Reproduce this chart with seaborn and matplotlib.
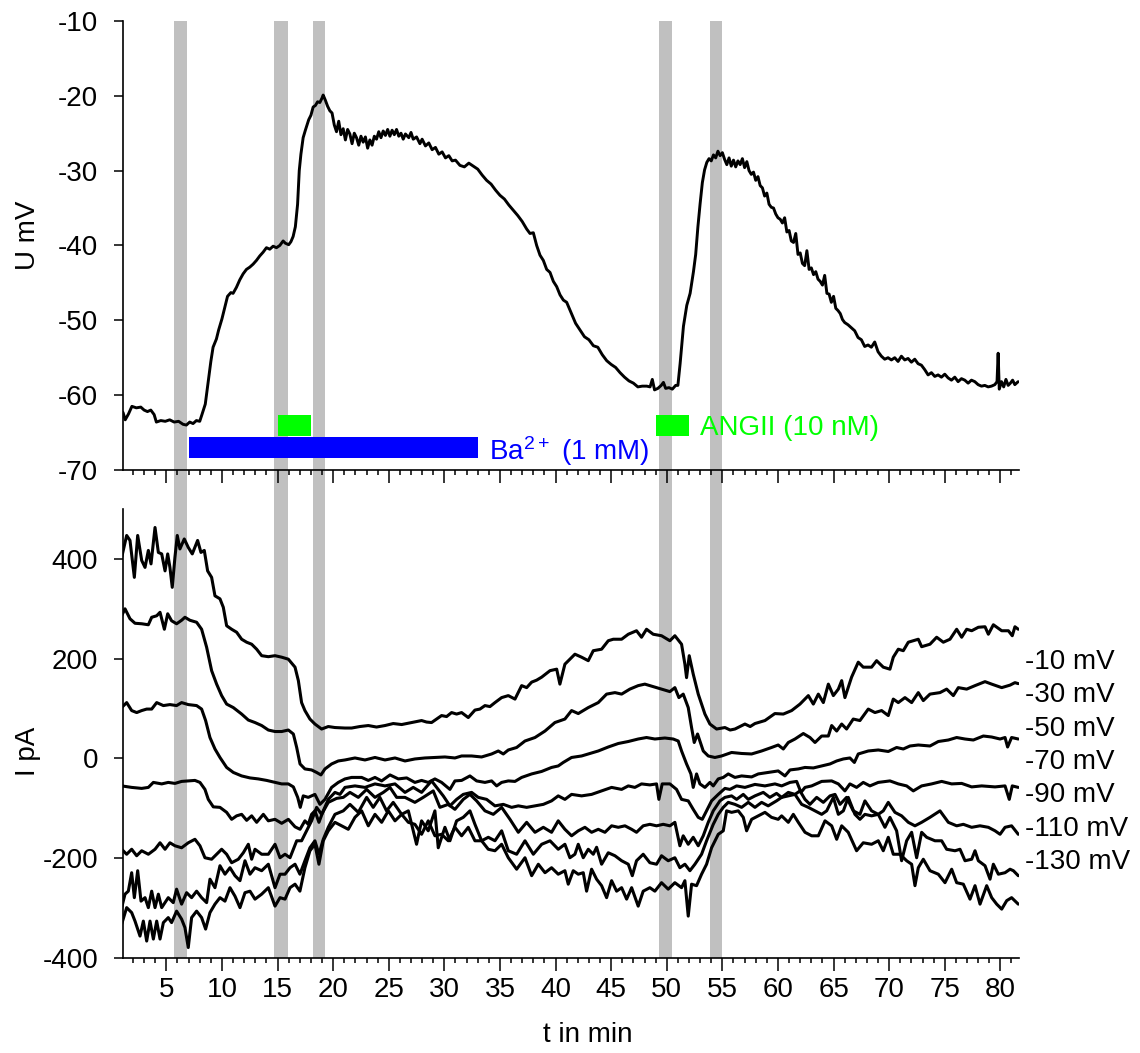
import matplotlib
matplotlib.use("Agg")
import matplotlib.pyplot as plt
from matplotlib.ticker import FixedLocator
import pandas as pd
import seaborn as sns

# ---------------------------------------------------------------- data
# membrane potential (t in min, U in mV)
u_trace = [
    (1.1, -62.3), (1.3, -63.3), (1.6, -62.5), (1.9, -61.5), (2.3, -61.7), (2.7, -61.6),
    (3.0, -62.0), (3.3, -62.2), (3.6, -62.0), (3.9, -62.6), (4.1, -63.6), (4.5, -63.4),
    (4.9, -63.5), (5.3, -63.3), (5.7, -63.6), (6.1, -63.5), (6.5, -63.9), (6.8, -64.0),
    (7.1, -63.6), (7.4, -63.8), (7.7, -63.4), (8.0, -63.5), (8.2, -62.6), (8.5, -61.2),
    (8.8, -57.8), (9.0, -55.5), (9.2, -53.6), (9.5, -52.5), (9.7, -51.3), (10.0, -49.8),
    (10.2, -48.6), (10.5, -46.8), (10.8, -46.3), (11.0, -46.4), (11.3, -45.6), (11.6, -44.6),
    (11.9, -43.8), (12.2, -43.2), (12.5, -42.9), (12.8, -42.5), (13.1, -42.0), (13.4, -41.4),
    (13.7, -40.9), (14.0, -40.3), (14.3, -40.5), (14.6, -40.1), (14.9, -40.3), (15.2, -40.0),
    (15.5, -39.4), (15.7, -39.7), (16.0, -39.9), (16.2, -39.5), (16.4, -38.8), (16.6, -37.5),
    (16.8, -34.5), (16.95, -30.0), (17.1, -27.8), (17.3, -25.6), (17.5, -24.6), (17.8, -23.2),
    (18.0, -22.6), (18.2, -21.5), (18.4, -21.3), (18.6, -20.8), (18.8, -20.9), (19.0, -20.3),
    (19.1, -19.9), (19.3, -20.6), (19.5, -21.4), (19.7, -22.0), (19.9, -22.3), (20.1, -23.9),
    (20.3, -24.8), (20.5, -23.4), (20.7, -25.2), (20.9, -24.4), (21.1, -25.9), (21.3, -24.5),
    (21.5, -25.1), (21.7, -26.4), (21.9, -25.0), (22.1, -25.6), (22.3, -26.6), (22.5, -25.4),
    (22.7, -26.2), (22.9, -25.5), (23.1, -27.0), (23.3, -25.9), (23.5, -26.6), (23.7, -25.4),
    (23.9, -25.8), (24.1, -24.8), (24.3, -25.6), (24.5, -24.7), (24.7, -25.3), (24.9, -24.5),
    (25.1, -25.4), (25.3, -24.6), (25.5, -25.2), (25.7, -24.5), (25.9, -25.4), (26.1, -25.0),
    (26.3, -25.8), (26.5, -25.1), (26.8, -25.6), (27.0, -24.9), (27.2, -25.8), (27.5, -25.5),
    (27.8, -26.4), (28.0, -25.8), (28.3, -26.7), (28.6, -26.3), (28.9, -27.2), (29.2, -26.9),
    (29.5, -27.8), (29.8, -27.5), (30.1, -28.3), (30.4, -28.0), (30.7, -28.7), (31.0, -28.6),
    (31.4, -29.3), (31.8, -29.5), (32.2, -29.0), (32.6, -29.4), (33.0, -29.8), (33.4, -30.6),
    (33.8, -31.3), (34.2, -31.8), (34.6, -32.6), (35.0, -33.3), (35.4, -33.8), (35.8, -34.6),
    (36.2, -35.3), (36.6, -36.0), (37.0, -36.8), (37.4, -37.8), (37.7, -38.4), (38.0, -38.3),
    (38.3, -40.0), (38.6, -41.3), (38.9, -42.0), (39.2, -43.2), (39.5, -43.6), (39.8, -44.8),
    (40.1, -45.5), (40.4, -46.6), (40.7, -47.3), (41.0, -47.6), (41.4, -49.0), (41.8, -50.4),
    (42.2, -51.3), (42.6, -52.2), (43.0, -52.6), (43.4, -53.4), (43.8, -53.6), (44.2, -54.6),
    (44.6, -55.4), (45.0, -55.9), (45.4, -56.3), (45.8, -57.0), (46.2, -57.6), (46.6, -58.1),
    (47.0, -58.4), (47.4, -58.9), (47.8, -58.8), (48.2, -58.8), (48.5, -58.9), (48.7, -57.9),
    (48.9, -59.3), (49.2, -59.1), (49.5, -58.7), (49.7, -58.3), (49.9, -59.1), (50.2, -59.0),
    (50.5, -59.2), (50.8, -58.7), (51.0, -58.7), (51.2, -55.8), (51.5, -50.8), (51.8, -48.0),
    (52.1, -46.4), (52.4, -43.5), (52.6, -41.2), (52.8, -37.5), (53.0, -34.4), (53.2, -31.6),
    (53.4, -29.9), (53.6, -28.9), (53.8, -28.4), (54.0, -28.7), (54.2, -27.9), (54.4, -28.3),
    (54.6, -27.4), (54.8, -28.0), (55.0, -27.6), (55.2, -28.5), (55.4, -29.2), (55.6, -28.3),
    (55.8, -29.4), (56.0, -28.6), (56.2, -29.5), (56.4, -28.7), (56.6, -29.2), (56.8, -28.4),
    (57.0, -29.6), (57.2, -28.8), (57.4, -30.0), (57.6, -30.5), (57.8, -30.2), (58.0, -31.3),
    (58.2, -30.8), (58.4, -32.0), (58.6, -32.3), (58.8, -33.4), (59.0, -33.0), (59.2, -34.5),
    (59.4, -34.9), (59.6, -35.0), (59.8, -35.8), (60.0, -36.3), (60.2, -36.5), (60.4, -37.0),
    (60.6, -36.3), (60.8, -38.2), (61.0, -38.0), (61.2, -39.4), (61.4, -39.6), (61.6, -38.4),
    (61.8, -41.2), (62.0, -41.0), (62.2, -42.4), (62.4, -42.7), (62.6, -40.7), (62.8, -43.2),
    (63.0, -43.0), (63.2, -43.9), (63.4, -43.5), (63.6, -44.5), (63.8, -44.8), (64.0, -45.3),
    (64.2, -44.0), (64.4, -46.4), (64.6, -46.5), (64.8, -47.6), (65.0, -46.8), (65.2, -48.4),
    (65.4, -48.7), (65.6, -49.1), (65.8, -49.9), (66.0, -50.3), (66.3, -50.6), (66.6, -51.0),
    (66.9, -51.4), (67.2, -52.3), (67.5, -52.6), (67.8, -53.5), (68.1, -53.3), (68.4, -53.6),
    (68.7, -52.9), (69.0, -54.2), (69.3, -54.8), (69.6, -55.2), (69.9, -55.0), (70.2, -55.3),
    (70.5, -55.0), (70.8, -55.5), (71.1, -54.8), (71.4, -55.3), (71.7, -55.1), (72.0, -55.6),
    (72.3, -55.2), (72.6, -55.8), (72.9, -56.0), (73.2, -56.6), (73.5, -57.3), (73.8, -57.0),
    (74.1, -57.5), (74.4, -57.3), (74.7, -57.6), (75.0, -57.2), (75.3, -57.7), (75.6, -58.0),
    (75.9, -57.6), (76.2, -58.2), (76.5, -57.8), (76.8, -58.0), (77.1, -58.4), (77.4, -58.0),
    (77.7, -58.2), (78.0, -58.6), (78.3, -58.8), (78.6, -58.7), (78.9, -58.9), (79.2, -58.8),
    (79.5, -58.6), (79.7, -58.2), (79.8, -54.4), (79.9, -59.2), (80.1, -58.2), (80.3, -58.9),
    (80.5, -57.9), (80.7, -58.7), (80.9, -58.4), (81.1, -58.0), (81.3, -58.6), (81.6, -58.2),
]

# whole-cell currents at the step potentials (t in min, I in pA)
i_m10 = [
    (0.98, 403), (1.43, 447), (1.73, 437), (2.12, 363), (2.42, 447), (2.78, 397), (3.08, 383),
    (3.38, 417), (3.62, 390), (3.98, 463), (4.28, 413), (4.58, 410), (4.88, 376), (5.12, 410),
    (5.32, 383), (5.53, 343), (5.77, 403), (5.98, 447), (6.22, 420), (6.61, 440), (6.97, 423),
    (7.33, 410), (7.81, 437), (8.11, 413), (8.41, 417), (8.71, 376), (9.07, 363), (9.37, 326),
    (9.82, 320), (10.12, 303), (10.42, 266), (10.87, 259), (11.32, 253), (11.77, 239),
    (12.22, 233), (12.67, 229), (13.12, 219), (13.57, 206), (14.17, 204), (14.77, 206),
    (15.37, 203), (15.97, 199), (16.57, 183), (16.87, 156), (17.16, 112), (17.46, 96),
    (17.91, 79), (18.36, 69), (18.96, 59), (19.56, 64), (20.16, 62), (21.06, 61), (21.66, 61),
    (22.4, 64), (23.16, 66), (23.9, 63), (24.66, 66), (25.4, 70), (26.16, 68), (27.05, 72),
    (27.95, 76), (28.4, 73), (28.85, 72), (29.75, 86), (30.2, 84), (30.65, 92), (31.1, 89),
    (31.55, 92), (32.15, 82), (32.75, 97), (33.2, 99), (33.65, 106), (34.1, 104), (34.55, 112),
    (35.15, 122), (35.75, 126), (36.35, 119), (36.95, 146), (37.4, 142), (37.85, 153),
    (38.3, 157), (38.75, 163), (39.5, 176), (40.1, 179), (40.39, 149), (40.84, 189),
    (41.74, 209), (42.34, 203), (42.94, 196), (43.39, 216), (44.14, 219), (44.74, 236),
    (45.19, 239), (45.94, 239), (46.54, 249), (47.28, 256), (47.73, 243), (48.18, 259),
    (48.78, 249), (49.53, 246), (50.28, 236), (50.73, 246), (51.33, 229), (51.63, 189),
    (51.78, 162), (52.02, 206), (52.38, 169), (52.83, 129), (53.43, 89), (53.88, 69),
    (54.48, 59), (55.23, 62), (55.7, 57), (56.13, 59), (57.03, 69), (57.5, 64), (57.93, 70),
    (58.83, 76), (59.72, 90), (60.48, 89), (61.23, 96), (61.98, 109), (62.73, 126),
    (63.18, 109), (63.63, 129), (64.08, 112), (64.53, 149), (64.98, 126), (65.43, 139),
    (65.73, 156), (66.02, 122), (66.62, 163), (67.22, 193), (67.67, 183), (68.42, 183),
    (68.87, 196), (69.47, 183), (70.07, 179), (70.37, 203), (70.82, 219), (71.27, 216),
    (71.72, 233), (72.62, 239), (72.92, 224), (73.67, 229), (74.27, 243), (74.87, 233),
    (75.47, 239), (76.07, 259), (76.52, 243), (76.97, 259), (77.42, 256), (78.02, 263),
    (78.62, 264), (78.92, 249), (79.37, 268), (80.12, 256), (80.72, 256), (81.07, 246),
    (81.31, 264), (81.61, 259),
]

i_m30 = [
    (0.98, 286), (1.28, 300), (1.73, 280), (2.18, 271), (2.78, 270), (3.38, 268), (3.68, 283),
    (4.13, 286), (4.43, 293), (4.82, 259), (5.12, 290), (5.47, 276), (5.92, 270), (6.37, 277),
    (6.67, 283), (7.12, 277), (7.72, 273), (8.17, 259), (8.62, 223), (9.07, 176), (9.52, 149),
    (9.97, 126), (10.42, 109), (11.02, 102), (11.77, 89), (12.37, 77), (12.97, 72), (13.57, 66),
    (14.17, 57), (14.77, 54), (15.37, 54), (15.97, 57), (16.42, 49), (16.72, 22), (17.02, -11),
    (17.46, -21), (18.06, -23), (18.51, -28), (18.90, -33), (19.26, -21), (19.86, -11),
    (20.46, -5), (21.06, -3), (21.96, 1), (22.86, -3), (23.76, 2), (24.66, -3), (25.56, 1),
    (26.46, -5), (27.35, -1), (28.25, 1), (29.15, 2), (30.05, 3), (30.95, 1), (31.55, 5),
    (32.45, 5), (33.35, 3), (34.25, 9), (34.85, 15), (35.30, 9), (35.75, 17), (36.50, 22),
    (37.25, 35), (38.15, 42), (39.05, 55), (39.94, 72), (40.84, 79), (41.44, 96), (42.04, 90),
    (42.94, 102), (43.84, 112), (44.59, 129), (45.34, 132), (45.94, 129), (46.68, 139),
    (47.43, 146), (48.03, 149), (48.78, 144), (49.53, 139), (50.28, 134), (50.73, 142),
    (51.09, 122), (51.48, 129), (51.93, 102), (52.23, 62), (52.47, 32), (52.77, 49),
    (53.28, 15), (53.73, 5), (54.33, 2), (54.93, 5), (55.83, 12), (56.73, 10), (57.63, 9),
    (58.53, 15), (59.42, 22), (60.02, 27), (60.48, 19), (60.93, 32), (61.53, 39), (62.28, 50),
    (62.88, 42), (63.33, 32), (63.93, 45), (64.53, 45), (64.83, 66), (65.28, 55), (65.73, 69),
    (66.17, 59), (66.77, 79), (67.37, 76), (68.12, 99), (68.72, 92), (69.32, 96), (69.92, 86),
    (70.37, 119), (70.82, 112), (71.42, 122), (72.02, 112), (72.62, 132), (73.07, 116),
    (73.67, 129), (74.57, 132), (75.17, 139), (75.77, 126), (76.22, 142), (76.97, 139),
    (77.72, 146), (78.62, 154), (79.22, 149), (80.12, 142), (80.87, 147), (81.31, 152),
    (81.61, 150),
]

i_m50 = [
    (0.98, 102), (1.43, 112), (1.88, 96), (2.33, 92), (2.78, 96), (3.23, 99), (3.68, 99),
    (4.13, 112), (4.73, 106), (5.32, 108), (5.92, 106), (6.37, 112), (6.97, 108), (7.72, 106),
    (8.17, 99), (8.53, 76), (8.92, 42), (9.37, 19), (9.82, 2), (10.42, -18), (11.02, -28),
    (11.77, -35), (12.52, -39), (13.27, -41), (14.02, -44), (14.77, -48), (15.37, -51),
    (15.97, -51), (16.42, -57), (16.81, -78), (17.04, -98), (17.31, -75), (17.76, -78),
    (18.36, -72), (18.81, -92), (19.26, -82), (19.86, -58), (20.46, -48), (21.06, -41),
    (21.66, -38), (22.56, -38), (23.16, -44), (23.76, -38), (24.36, -45), (25.11, -33),
    (25.86, -41), (26.61, -39), (27.35, -48), (27.95, -44), (28.55, -48), (29.15, -41),
    (29.75, -48), (30.50, -62), (30.95, -45), (31.55, -44), (32.30, -35), (32.90, -45),
    (33.65, -48), (34.25, -45), (34.70, -55), (35.15, -48), (35.75, -45), (36.35, -46),
    (36.95, -38), (37.85, -31), (38.75, -26), (39.64, -18), (40.24, -15), (40.69, -8),
    (41.44, 2), (42.34, 5), (42.94, 9), (43.84, 15), (44.74, 23), (45.64, 30), (46.54, 34),
    (47.43, 39), (48.18, 42), (48.93, 39), (49.83, 41), (50.58, 39), (51.03, 35), (51.33, 15),
    (51.78, -11), (52.17, -31), (52.38, -58), (52.68, -31), (52.98, -51), (53.43, -58),
    (53.88, -48), (54.18, -55), (54.63, -41), (55.08, -38), (55.53, -31), (56.13, -38),
    (56.73, -35), (57.63, -37), (58.23, -31), (59.12, -28), (60.02, -25), (60.63, -35),
    (61.08, -23), (61.83, -21), (62.43, -18), (63.18, -19), (63.93, -15), (64.68, -11),
    (65.28, -5), (65.88, -1), (66.47, 1), (66.87, -8), (67.22, 9), (68.12, 15), (69.02, 17),
    (69.92, 14), (70.67, 22), (71.27, 19), (71.87, 25), (72.62, 27), (73.67, 25), (74.42, 34),
    (75.32, 37), (76.07, 42), (76.82, 39), (77.57, 37), (78.47, 45), (79.22, 43), (79.97, 39),
    (80.42, 42), (80.65, 23), (81.01, 42), (81.61, 39),
]

i_m70 = [
    (0.98, -55), (1.88, -58), (2.78, -60), (3.38, -58), (3.83, -48), (4.58, -51), (5.17, -48),
    (5.77, -50), (6.37, -46), (6.97, -45), (7.57, -44), (8.02, -48), (8.47, -62), (8.77, -82),
    (9.22, -97), (9.82, -98), (10.42, -108), (10.87, -122), (11.32, -115), (11.77, -112),
    (12.22, -124), (12.67, -115), (13.12, -128), (13.72, -112), (14.17, -125), (14.77, -122),
    (15.37, -130), (15.97, -122), (16.57, -137), (17.02, -142), (17.46, -125), (17.76, -132),
    (18.06, -112), (18.36, -105), (18.72, -128), (19.11, -105), (19.56, -82), (20.16, -68),
    (20.61, -72), (21.06, -58), (21.96, -55), (22.86, -58), (23.76, -51), (24.66, -55),
    (25.56, -51), (26.46, -68), (27.20, -58), (27.95, -68), (28.85, -45), (29.30, -58),
    (29.90, -75), (30.50, -95), (31.10, -82), (31.70, -72), (32.45, -68), (33.05, -78),
    (33.80, -82), (34.55, -95), (35.30, -92), (36.05, -98), (36.65, -95), (37.40, -98),
    (38.15, -95), (38.90, -92), (39.64, -85), (40.24, -75), (40.84, -82), (41.44, -72),
    (42.34, -75), (43.24, -72), (44.14, -65), (45.04, -58), (45.94, -62), (46.54, -55),
    (47.13, -58), (47.73, -51), (48.48, -53), (49.08, -51), (49.29, -82), (49.59, -51),
    (50.28, -51), (50.88, -62), (51.33, -82), (51.93, -85), (52.38, -102), (52.83, -118),
    (53.19, -122), (53.58, -105), (54.03, -85), (54.63, -72), (55.23, -60), (55.68, -62),
    (56.28, -55), (57.03, -58), (57.93, -52), (58.83, -55), (59.73, -51), (60.33, -55),
    (61.08, -48), (61.68, -46), (62.07, -68), (62.43, -58), (63.03, -55), (63.93, -46),
    (64.83, -45), (65.43, -51), (66.02, -65), (66.47, -51), (67.07, -58), (67.67, -48),
    (68.27, -55), (69.02, -48), (70.07, -45), (70.82, -51), (71.57, -55), (72.17, -65),
    (72.92, -55), (73.82, -51), (74.72, -46), (75.62, -51), (76.52, -50), (77.42, -57),
    (78.32, -55), (79.52, -57), (80.42, -55), (80.80, -82), (81.07, -55), (81.61, -58),
]

i_m90 = [
    (0.98, -182), (1.43, -192), (1.88, -182), (2.33, -195), (2.78, -185), (3.38, -192),
    (3.98, -182), (4.43, -169), (4.88, -182), (5.32, -169), (5.77, -175), (6.37, -179),
    (6.97, -169), (7.57, -162), (8.02, -175), (8.47, -199), (9.07, -202), (9.52, -192),
    (9.97, -182), (10.42, -192), (10.87, -209), (11.47, -202), (11.92, -189), (12.37, -172),
    (12.67, -202), (12.97, -182), (13.57, -192), (14.17, -192), (14.77, -172), (15.22, -199),
    (15.67, -192), (16.12, -199), (16.72, -165), (17.16, -165), (17.61, -145), (18.06, -125),
    (18.51, -98), (18.96, -112), (19.56, -88), (20.31, -80), (20.91, -78), (21.51, -68),
    (22.26, -78), (23.01, -62), (23.76, -78), (24.51, -68), (25.11, -58), (25.71, -78),
    (26.46, -78), (27.35, -88), (28.10, -78), (29.00, -65), (29.60, -98), (30.35, -92),
    (30.95, -102), (31.70, -82), (32.30, -72), (32.90, -85), (33.65, -105), (34.40, -112),
    (35.15, -98), (35.90, -122), (36.65, -148), (37.40, -128), (38.15, -148), (38.90, -138),
    (39.64, -148), (40.24, -125), (40.84, -142), (41.44, -155), (42.04, -145), (42.64, -138),
    (43.24, -148), (43.84, -142), (44.44, -148), (45.04, -135), (45.64, -138), (46.24, -135),
    (46.84, -142), (47.28, -148), (47.88, -135), (48.48, -132), (49.08, -135), (49.68, -132),
    (50.28, -135), (50.73, -128), (51.18, -175), (51.48, -155), (51.93, -172), (52.38, -158),
    (52.83, -175), (53.28, -155), (53.73, -128), (54.18, -105), (54.78, -85), (55.23, -78),
    (55.83, -75), (56.28, -82), (56.88, -72), (57.33, -82), (57.93, -75), (58.68, -68),
    (59.27, -78), (59.87, -70), (60.33, -78), (60.93, -68), (61.53, -72), (61.98, -65),
    (62.43, -82), (62.88, -92), (63.48, -78), (64.08, -88), (64.68, -75), (65.13, -72),
    (65.58, -92), (66.17, -78), (66.77, -105), (67.37, -112), (67.82, -85), (68.42, -105),
    (69.02, -112), (69.47, -105), (69.92, -88), (70.52, -108), (71.12, -115), (71.72, -128),
    (72.32, -135), (72.92, -128), (73.67, -118), (74.57, -105), (75.32, -128), (76.07, -135),
    (76.67, -132), (77.42, -138), (78.17, -135), (78.92, -138), (79.52, -145), (79.97, -152),
    (80.42, -138), (81.01, -135), (81.61, -152),
]

i_m110 = [
    (0.98, -299), (1.28, -272), (1.58, -266), (1.88, -229), (2.12, -279), (2.42, -225),
    (2.72, -286), (3.08, -279), (3.38, -299), (3.68, -266), (3.98, -299), (4.28, -272),
    (4.58, -299), (4.88, -289), (5.17, -279), (5.62, -289), (5.92, -262), (6.37, -292),
    (6.82, -269), (7.27, -279), (7.72, -266), (8.17, -279), (8.62, -289), (8.92, -242),
    (9.37, -259), (9.82, -215), (10.27, -232), (10.72, -219), (11.17, -235), (11.62, -245),
    (12.07, -205), (12.52, -232), (12.97, -219), (13.57, -225), (14.17, -212), (14.77, -259),
    (15.22, -232), (15.67, -232), (16.12, -219), (16.57, -212), (17.01, -232), (17.46, -205),
    (17.91, -179), (18.36, -165), (18.72, -192), (19.11, -162), (19.56, -138), (20.16, -112),
    (20.91, -105), (21.51, -92), (22.26, -108), (23.01, -78), (23.6, -98), (24.2, -78),
    (24.8, -105), (25.4, -88), (26.16, -112), (26.76, -105), (27.5, -172), (27.95, -125),
    (28.55, -145), (29.15, -105), (29.45, -179), (30.05, -138), (30.5, -165), (31.1, -125),
    (31.7, -118), (32.3, -105), (32.75, -132), (33.35, -165), (33.95, -158), (34.55, -165),
    (35.15, -145), (35.75, -185), (36.5, -192), (37.25, -165), (38.0, -192), (38.75, -172),
    (39.5, -165), (40.24, -182), (40.84, -172), (41.29, -199), (41.74, -192), (42.04, -172),
    (42.49, -199), (42.94, -182), (43.39, -192), (43.69, -178), (44.14, -212), (44.74, -189),
    (45.34, -195), (45.94, -205), (46.54, -212), (46.9, -235), (47.28, -205), (47.88, -192),
    (48.48, -209), (49.08, -212), (49.53, -195), (50.13, -205), (50.73, -199), (51.18, -219),
    (51.63, -212), (52.08, -225), (52.53, -212), (53.13, -192), (53.58, -165), (54.18, -132),
    (54.63, -112), (55.08, -98), (55.53, -88), (56.13, -92), (56.73, -98), (57.33, -88),
    (57.93, -98), (58.53, -88), (59.12, -95), (59.87, -85), (60.33, -78), (60.93, -75),
    (61.53, -72), (62.13, -92), (62.73, -98), (63.33, -105), (63.93, -112), (64.38, -105),
    (64.98, -78), (65.43, -112), (65.88, -105), (66.32, -78), (66.92, -112), (67.37, -122),
    (67.82, -112), (68.42, -115), (69.02, -112), (69.62, -138), (70.07, -118), (70.67, -145),
    (71.12, -205), (71.57, -165), (72.02, -148), (72.47, -199), (72.92, -148), (73.37, -158),
    (74.12, -165), (74.72, -165), (75.17, -182), (75.92, -185), (76.37, -182), (76.82, -205),
    (77.42, -202), (77.72, -185), (78.02, -205), (78.62, -215), (79.07, -242), (79.37, -212),
    (79.82, -232), (80.42, -229), (80.87, -222), (81.17, -225), (81.61, -235),
]

i_m130 = [
    (0.98, -332), (1.43, -299), (1.88, -309), (2.18, -326), (2.63, -356), (2.93, -326),
    (3.23, -366), (3.53, -326), (3.83, -362), (4.13, -326), (4.43, -362), (4.73, -329),
    (5.17, -319), (5.47, -329), (5.92, -306), (6.37, -322), (6.67, -339), (6.97, -379),
    (7.27, -319), (7.72, -306), (8.17, -319), (8.53, -342), (8.92, -309), (9.37, -292),
    (9.82, -279), (10.27, -286), (10.72, -259), (11.17, -276), (11.62, -299), (12.07, -269),
    (12.52, -266), (12.97, -282), (13.57, -272), (14.17, -259), (14.77, -296), (15.22, -279),
    (15.67, -282), (16.12, -259), (16.57, -252), (17.01, -266), (17.46, -219), (17.91, -185),
    (18.36, -172), (18.72, -212), (19.11, -165), (19.56, -145), (20.16, -128), (20.76, -135),
    (21.36, -142), (21.96, -118), (22.56, -105), (23.16, -135), (23.76, -112), (24.36, -128),
    (24.96, -105), (25.56, -125), (26.16, -112), (26.76, -128), (27.35, -132), (27.95, -152),
    (28.55, -125), (29.15, -155), (29.75, -152), (30.35, -165), (30.95, -138), (31.55, -155),
    (32.15, -138), (32.75, -165), (33.35, -165), (33.95, -182), (34.55, -185), (35.15, -172),
    (35.75, -199), (36.5, -222), (37.25, -199), (37.85, -235), (38.45, -212), (39.05, -229),
    (39.64, -219), (40.24, -232), (40.84, -225), (41.14, -252), (41.59, -225), (42.04, -232),
    (42.49, -229), (42.79, -266), (43.24, -222), (43.69, -242), (44.14, -255), (44.59, -279),
    (45.04, -245), (45.49, -266), (45.94, -259), (46.39, -282), (46.84, -259), (47.43, -296),
    (47.88, -266), (48.48, -259), (48.93, -266), (49.53, -249), (50.13, -262), (50.73, -249),
    (51.33, -259), (51.63, -245), (51.93, -316), (52.23, -252), (52.68, -255), (53.13, -232),
    (53.58, -212), (54.03, -179), (54.63, -152), (55.08, -145), (55.38, -105), (55.83, -108),
    (56.43, -105), (56.88, -118), (57.18, -145), (57.63, -122), (58.23, -115), (58.83, -108),
    (59.42, -118), (60.02, -122), (60.33, -115), (60.93, -128), (61.38, -112), (61.83, -128),
    (62.43, -148), (63.03, -155), (63.63, -155), (64.23, -125), (64.83, -135), (65.28, -162),
    (65.73, -135), (66.32, -148), (67.07, -185), (67.67, -169), (68.42, -172), (69.02, -165),
    (69.47, -185), (69.92, -158), (70.37, -192), (70.97, -192), (71.57, -205), (72.02, -212),
    (72.32, -255), (72.62, -219), (73.07, -202), (73.67, -225), (74.42, -232), (75.02, -249),
    (75.62, -222), (76.07, -249), (76.67, -252), (77.27, -282), (77.72, -255), (78.17, -292),
    (78.77, -255), (79.22, -279), (79.67, -292), (80.12, -302), (80.57, -285), (81.01, -279),
    (81.61, -292),
]

step_labels = ["-10 mV", "-30 mV", "-50 mV", "-70 mV", "-90 mV", "-110 mV", "-130 mV"]
current_traces = [i_m10, i_m30, i_m50, i_m70, i_m90, i_m110, i_m130]

# recording windows of the I/V protocol (min)
iv_windows = [(5.69, 6.86), (14.68, 15.9), (18.18, 19.3), (49.3, 50.5), (53.9, 55.0)]
# drug applications (min)
ba_window = (7.0, 33.0)
angii_windows = [(15.0, 18.0), (49.0, 52.0)]

u_ticks = [-70, -60, -50, -40, -30, -20, -10]
i_ticks = [-400, -200, 0, 200, 400]
t_ticks = list(range(5, 81, 5))

# ---------------------------------------------------------------- frames
df_u = pd.DataFrame(u_trace, columns=["t", "U"])
df_i = pd.concat(
    [pd.DataFrame(tr, columns=["t", "I"]).assign(step=lab)
     for lab, tr in zip(step_labels, current_traces)],
    ignore_index=True,
)

# ---------------------------------------------------------------- style
sns.set_theme(style="ticks")
plt.rcParams["font.family"] = ["Liberation Sans", "DejaVu Sans"]
plt.rcParams.update({
    "mathtext.default": "regular",
    "axes.unicode_minus": False,
    "text.color": "black",
    "axes.labelcolor": "black",
    "xtick.color": "black",
    "ytick.color": "black",
    "axes.edgecolor": "black",
})
FS = 20

fig = plt.figure(figsize=(11.4, 10.53), dpi=100)
fig.patch.set_facecolor("white")
ax_u = fig.add_axes([0.1076, 0.5537, 0.7865, 0.4264])
ax_i = fig.add_axes([0.1076, 0.0902, 0.7865, 0.4264])
gap = (0.5537 - (0.0902 + 0.4264)) / 0.4264

# shaded I/V windows run through both panels and the gap between them
for a, b in iv_windows:
    ax_u.axvspan(a, b, ymin=-gap, ymax=1, color="#c0c0c0", lw=0, zorder=0.1, clip_on=False)
    ax_i.axvspan(a, b, color="#c0c0c0", lw=0, zorder=0.1)

sns.lineplot(data=df_u, x="t", y="U", ax=ax_u, color="black", lw=2.1,
             estimator=None, sort=False)
sns.lineplot(data=df_i, x="t", y="I", units="step", ax=ax_i, color="black", lw=2.2,
             estimator=None, sort=False, legend=False)

# application bars
ax_u.broken_barh([(ba_window[0], ba_window[1] - ba_window[0])], (-68.4, 2.8),
                 facecolors="#0000ff", edgecolor="none", linewidth=0, zorder=1.5)
ax_u.broken_barh([(a, b - a) for a, b in angii_windows], (-65.4, 2.8),
                 facecolors="#00ff00", edgecolor="none", linewidth=0, zorder=1.5)
ax_u.text(34.0, -68.65, "Ba$^{2+}$ (1 mM)", color="#0000ff", fontsize=FS,
          va="baseline", ha="left")
ax_u.text(53.0, -65.3, "ANGII (10 nM)", color="#00ff00", fontsize=FS,
          va="baseline", ha="left")

# step-potential labels at the right edge
for k, lab in enumerate(step_labels):
    ax_i.text(82.2, 179.3 - 66.8 * k, lab, fontsize=FS, va="baseline", ha="left",
              clip_on=False)

for ax in (ax_u, ax_i):
    ax.set_facecolor("none")
    ax.set_xlim(1.07, 81.7)
    ax.xaxis.set_major_locator(FixedLocator(t_ticks))
    ax.xaxis.set_minor_locator(FixedLocator([m for m in range(2, 82) if m % 5]))
    ax.tick_params(axis="x", which="major", direction="out", length=9.5, width=1.1,
                   color="black", labelcolor="black", labelsize=FS, pad=4)
    ax.tick_params(axis="x", which="minor", direction="out", length=3.6, width=1.1,
                   color="black")
    ax.tick_params(axis="y", which="major", direction="out", length=6.7, width=1.1,
                   color="black", labelcolor="black", labelsize=FS, pad=11)
    for side in ("top", "right"):
        ax.spines[side].set_visible(False)
    for side in ("left", "bottom"):
        ax.spines[side].set_linewidth(1.2)
        ax.spines[side].set_color("black")

ax_u.set_ylim(-70, -10)
ax_u.set_yticks(u_ticks)
ax_u.tick_params(axis="x", labelbottom=False)
ax_u.set_xlabel("")
ax_u.set_ylabel("U mV", fontsize=FS)
ax_u.yaxis.set_label_coords(-0.091, 0.523)

ax_i.set_ylim(-400, 500)
ax_i.set_yticks(i_ticks)
ax_i.set_ylabel("I pA", fontsize=FS)
ax_i.yaxis.set_label_coords(-0.091, 0.46)
ax_i.set_xlabel("t in min", fontsize=FS)
ax_i.xaxis.set_label_coords(0.519, -0.143)

fig.savefig("out.png", dpi=100, facecolor="white")
